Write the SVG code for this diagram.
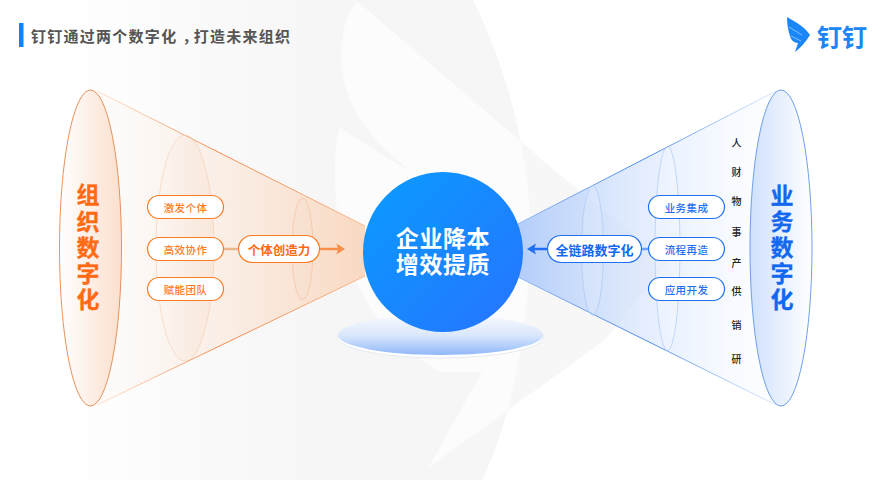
<svg xmlns="http://www.w3.org/2000/svg" width="886" height="480" viewBox="0 0 886 480">
<defs>
<linearGradient id="bgw" gradientUnits="userSpaceOnUse" x1="60" y1="0" x2="330" y2="0"><stop offset="0" stop-color="#fff"/><stop offset=".5" stop-color="#fafafa"/><stop offset="1" stop-color="#f6f6f7"/></linearGradient>
<linearGradient id="lc" gradientUnits="userSpaceOnUse" x1="97" y1="0" x2="362" y2="0"><stop offset="0" stop-color="#fdeee3" stop-opacity=".1"/><stop offset="1" stop-color="#f9d9c2"/></linearGradient>
<linearGradient id="ls" gradientUnits="userSpaceOnUse" x1="97" y1="0" x2="362" y2="0"><stop offset="0" stop-color="#f9c9a5" stop-opacity=".5"/><stop offset=".45" stop-color="#f08a4b"/><stop offset="1" stop-color="#f7b88c"/></linearGradient>
<linearGradient id="rc" gradientUnits="userSpaceOnUse" x1="776" y1="0" x2="520" y2="0"><stop offset="0" stop-color="#eaf2ff" stop-opacity=".1"/><stop offset="1" stop-color="#b4cefa"/></linearGradient>
<linearGradient id="rs" gradientUnits="userSpaceOnUse" x1="776" y1="0" x2="520" y2="0"><stop offset="0" stop-color="#b8d2fb" stop-opacity=".5"/><stop offset=".5" stop-color="#4a88e8"/><stop offset="1" stop-color="#8fb5f5"/></linearGradient>
<linearGradient id="le" x1="0" y1="0" x2="1" y2="0"><stop offset="0" stop-color="#fff"/><stop offset="1" stop-color="#fbdfcd"/></linearGradient>
<linearGradient id="re" x1="0" y1="0" x2="1" y2="0"><stop offset="0" stop-color="#cfe1fd"/><stop offset="1" stop-color="#fff"/></linearGradient>
<linearGradient id="li1" x1="0" y1="0" x2="1" y2="0"><stop offset="0" stop-color="#f6d8c4" stop-opacity="0"/><stop offset="1" stop-color="#f6d8c4" stop-opacity=".35"/></linearGradient>
<linearGradient id="ball" x1="0" y1="0" x2="1" y2="1"><stop offset="0" stop-color="#0a9cff"/><stop offset="1" stop-color="#2673ff"/></linearGradient>
<linearGradient id="plat" x1="0" y1="0" x2="0" y2="1"><stop offset="0" stop-color="#f6f9ff"/><stop offset=".5" stop-color="#dbe8fb"/><stop offset="1" stop-color="#8fb8fa"/></linearGradient>
<linearGradient id="ol" x1="0" y1="0" x2="1" y2="0"><stop offset="0" stop-color="#f9dcc4" stop-opacity=".5"/><stop offset="1" stop-color="#f3c7a5"/></linearGradient>
<linearGradient id="bl" x1="1" y1="0" x2="0" y2="0"><stop offset="0" stop-color="#cfe0fd" stop-opacity=".4"/><stop offset="1" stop-color="#9dc2fb"/></linearGradient>
<clipPath id="bigclip"><path d="M60 0H473C510 75 530 160 530 230C530 320 515 410 482 480H60Z"/></clipPath>
<path id="wing" d="M358 2L560 175L668 262L605 340L428 468L482 372L440 372C385 340 345 290 336 200C334 170 335 135 340 128L420 178C380 150 341 110 341 55C341 35 348 8 358 2Z"/>
</defs>
<style>
text{font-family:"Noto Sans CJK SC","Liberation Sans",sans-serif;text-anchor:middle;dominant-baseline:central}
.big{font-size:23px;font-weight:700;stroke-width:.3px}
.pl{fill:#fff;stroke:#ff7a1f;stroke-width:1.2}
.pb{fill:#fff;stroke:#1f6ff2;stroke-width:1.2}
.to{fill:#ff7a1f;font-size:10.5px;font-weight:500;letter-spacing:.4px}
.tb{fill:#1f6ff2;font-size:10.5px;font-weight:500;letter-spacing:.4px}
.v{fill:#222;font-size:10px;font-weight:500}
</style>
<rect width="886" height="480" fill="#fff"/>
<g id="background">
<use href="#wing" fill="#f7f7f8"/>
<path d="M60 0H473C510 75 530 160 530 230C530 320 515 410 482 480H60Z" fill="url(#bgw)"/>
<use href="#wing" fill="#fcfcfc" clip-path="url(#bigclip)"/>
</g>
<g id="cone-left">
<path d="M97 91L365 226V276L97 405Z" fill="url(#lc)"/>
<path d="M97 91L365 226M365 276L97 405" fill="none" stroke="url(#ls)" stroke-width="1"/>
<ellipse cx="185" cy="248" rx="29" ry="113" fill="url(#li1)" stroke="#f3c9ac" stroke-opacity=".7" stroke-width=".8"/>
<ellipse cx="302.500" cy="249" rx="10.500" ry="51" fill="#f9d9c2" fill-opacity=".12" stroke="#f2c09c" stroke-opacity=".8" stroke-width=".8"/>
</g>
<g id="cone-right">
<path d="M776 91L518 224V277L776 405Z" fill="url(#rc)"/>
<path d="M776 91L518 224M518 277L776 405" fill="none" stroke="url(#rs)" stroke-width="1"/>
<ellipse cx="667.500" cy="248.500" rx="12.500" ry="102" fill="#fff" fill-opacity=".2" stroke="#a8c5f5" stroke-opacity=".8" stroke-width=".8"/>
<ellipse cx="592.500" cy="250.500" rx="11" ry="65" fill="#fff" fill-opacity=".12" stroke="#a8c5f5" stroke-opacity=".8" stroke-width=".8"/>
</g>
<g id="connectors">
<path d="M121 249H147" stroke="url(#ol)" stroke-width="2.500" fill="none"/>
<path d="M224 249H238" stroke="#eeb48c" stroke-width="2.500" fill="none"/>
<path d="M319 249H340" stroke="#f98f4a" stroke-width="2.500" fill="none"/>
<path d="M336.500 243.500L345 249L336.500 254.500L338 249Z" fill="#f98f4a"/>
<path d="M751 249H725" stroke="url(#bl)" stroke-width="2.500" fill="none"/>
<path d="M648 249H642" stroke="#6fa3f8" stroke-width="2.500" fill="none"/>
<path d="M547 249H532" stroke="#1f6ff2" stroke-width="2.500" fill="none"/>
<path d="M536 243.500L527 249L536 254.500L534 249Z" fill="#1f6ff2"/>
</g>
<g id="title">
<rect x="19" y="23" width="4.500" height="24" fill="#0a84ff"/>
<text x="31" y="35" dx="0 0 0 0 0 0 0 0 0 5 -5" style="text-anchor:start;font-size:15px;font-weight:700;letter-spacing:1.250px" fill="#555">钉钉通过两个数字化，打造未来组织</text>
</g>
<g id="logo">
<path d="M787 17C796 22 806 28 810 35C806 42 800 48 795 52L798 43C794 43 791 40 790 36C788 30 787 24 787 17Z" fill="#1a86f8"/>
<path d="M789 27L802 35M791 36L801 41" stroke="#9fd0fd" stroke-width=".8" fill="none"/>
<text x="842" y="35.500" style="font-size:25px;font-weight:700" fill="#1a86f8">钉钉</text>
</g>
<g id="node-org">
<ellipse cx="90.500" cy="248" rx="31" ry="158" fill="url(#le)" stroke="#e8925c" stroke-width="1"/>
<text class="big" x="88 88 88 88 88" y="193 220 246 272 298" fill="#ff6a13" stroke="#ff6a13">组织数字化</text>
</g>
<g id="node-biz">
<ellipse cx="781" cy="248" rx="31" ry="158" fill="url(#re)" stroke="#6f9fee" stroke-width="1"/>
<text class="big" x="782 782 782 782 782" y="194 220 246 272 298" fill="#1268f0" stroke="#1268f0">业务数字化</text>
</g>
<g id="node-jifa"><rect class="pl" x="147.500" y="195.500" width="76" height="23" rx="11.500"/><text class="to" x="185.500" y="207">激发个体</text></g>
<g id="node-gaoxiao"><rect class="pl" x="147.500" y="237.500" width="76" height="23" rx="11.500"/><text class="to" x="185.500" y="249">高效协作</text></g>
<g id="node-funeng"><rect class="pl" x="147.500" y="277.500" width="76" height="23" rx="11.500"/><text class="to" x="185.500" y="289">赋能团队</text></g>
<g id="node-geti"><rect class="pl" x="238.500" y="235.500" width="81" height="27" rx="13.500"/><text x="279" y="249" style="font-size:12.500px;font-weight:700" fill="#ff6a13">个体创造力</text></g>
<g id="node-yewu"><rect class="pb" x="648.500" y="195.500" width="76" height="23" rx="11.500"/><text class="tb" x="686.500" y="207">业务集成</text></g>
<g id="node-liucheng"><rect class="pb" x="648.500" y="237.500" width="76" height="23" rx="11.500"/><text class="tb" x="686.500" y="249">流程再造</text></g>
<g id="node-yingyong"><rect class="pb" x="648.500" y="277.500" width="76" height="23" rx="11.500"/><text class="tb" x="686.500" y="289">应用开发</text></g>
<g id="node-quanlian"><rect class="pb" x="547.500" y="235.500" width="94" height="27" rx="13.500"/><text x="594.500" y="249" style="font-size:13px;font-weight:700" fill="#1268f0">全链路数字化</text></g>
<g id="chain">
<text class="v" x="736.500" y="142">人</text><text class="v" x="736.500" y="171">财</text><text class="v" x="736.500" y="200">物</text><text class="v" x="736.500" y="231">事</text><text class="v" x="736.500" y="262">产</text><text class="v" x="736.500" y="290">供</text><text class="v" x="736.500" y="324">销</text><text class="v" x="736.500" y="358">研</text>
</g>
<g id="node-center">
<ellipse cx="440.500" cy="337" rx="103" ry="21" fill="#fff" stroke="#dfe4ec" stroke-width=".8"/>
<ellipse cx="440.500" cy="335" rx="102.500" ry="20" fill="url(#plat)"/>
<circle cx="443" cy="252" r="80" fill="url(#ball)"/>
<text x="443" y="237" style="font-size:23px;font-weight:700;letter-spacing:.6px" fill="#fff">企业降本</text>
<text x="443" y="263" style="font-size:23px;font-weight:700;letter-spacing:.6px" fill="#fff">增效提质</text>
</g>
</svg>
